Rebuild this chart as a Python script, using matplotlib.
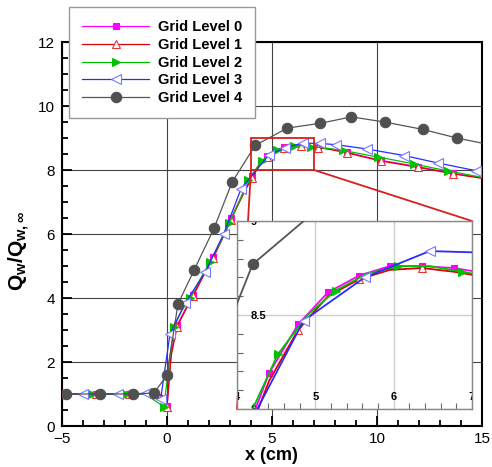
import matplotlib
matplotlib.use("Agg")
import matplotlib.pyplot as plt
from matplotlib.patches import Rectangle, ConnectionPatch
from matplotlib.ticker import MultipleLocator, FixedLocator, FuncFormatter

plt.rcParams['font.family'] = ['Liberation Sans', 'DejaVu Sans']
plt.rcParams['mathtext.fontset'] = 'custom'
plt.rcParams['mathtext.rm'] = 'Liberation Sans'
plt.rcParams['mathtext.bf'] = 'Liberation Sans:bold'
plt.rcParams['mathtext.it'] = 'Liberation Sans:italic'

# ---------------- data ----------------
labels = ["Grid Level 0", "Grid Level 1", "Grid Level 2", "Grid Level 3", "Grid Level 4"]

l0_x = [-5.0, -4.2, -3.4, -2.6, -1.8, -1.2, -0.6, -0.25, 0.0, 0.2, 0.48, 0.85, 1.24, 1.7, 2.2, 2.6,
        3.05, 3.6, 4.05, 4.41, 4.78, 5.16, 5.56, 5.95, 6.36, 6.77, 7.2, 7.85, 8.55, 9.35, 10.2, 11.1,
        11.97, 12.8, 13.6, 15.0]
l0_y = [1.0, 1.0, 1.0, 1.0, 1.0, 1.0, 1.0, 0.97, 0.62, 2.3, 3.15, 3.62, 4.09, 4.68, 5.28, 5.83,
        6.5, 7.25, 7.8, 8.19, 8.45, 8.62, 8.71, 8.76, 8.76, 8.75, 8.72, 8.65, 8.56, 8.43, 8.3, 8.2,
        8.1, 8.0, 7.9, 7.76]

l1_x = l0_x
l1_y = [1.0, 1.0, 1.0, 1.0, 1.0, 1.0, 1.0, 0.96, 0.6, 2.2, 3.1, 3.58, 4.05, 4.65, 5.25, 5.8,
        6.45, 7.2, 7.76, 8.15, 8.42, 8.6, 8.69, 8.74, 8.75, 8.73, 8.7, 8.63, 8.54, 8.41, 8.28, 8.18,
        8.08, 7.98, 7.88, 7.74]

l2_x = [-5.0, -3.55, -2.75, -1.96, -1.05, -0.14, 0.1, 0.33, 0.7, 1.1, 1.55, 2.05, 2.5, 2.97, 3.42,
        3.87, 4.2, 4.52, 4.9, 5.26, 5.66, 6.06, 6.46, 6.87, 7.6, 8.4, 9.2, 10.07, 10.9, 11.74, 12.55,
        13.4, 15.0]
l2_y = [1.0, 1.0, 1.0, 1.0, 1.0, 0.6, 2.0, 3.1, 3.6, 4.0, 4.55, 5.13, 5.7, 6.34, 6.98,
        7.68, 8.0, 8.29, 8.5, 8.63, 8.72, 8.76, 8.76, 8.73, 8.68, 8.61, 8.51, 8.4, 8.3, 8.19, 8.08,
        7.97, 7.77]

l3_x = [-5.0, -4.0, -2.35, -1.0, -0.3, 0.14, 0.86, 1.81, 2.7, 3.53, 4.85, 5.63, 6.46, 7.3, 8.07,
        9.5, 11.3, 12.9, 14.7, 15.0]
l3_y = [1.0, 1.0, 1.0, 1.02, 0.85, 2.87, 3.84, 4.8, 6.0, 7.42, 8.47, 8.7, 8.84, 8.83, 8.79,
        8.66, 8.45, 8.22, 7.98, 7.94]

l4_x = [-4.8, -3.2, -1.62, -0.62, 0.0, 0.52, 1.29, 2.24, 3.1, 4.2, 5.73, 7.3, 8.78, 10.36, 12.17,
        13.8, 15.0]
l4_y = [1.0, 1.0, 1.0, 1.03, 1.59, 3.81, 4.87, 6.18, 7.62, 8.77, 9.31, 9.46, 9.66, 9.5, 9.27,
        9.0, 8.84]

xs = [l0_x, l1_x, l2_x, l3_x, l4_x]
ys = [l0_y, l1_y, l2_y, l3_y, l4_y]

main_xlim = (-5, 15)
main_ylim = (0, 12)
zoom_xlim = (4, 7)
zoom_ylim = (8, 9)

# ---------------- styles ----------------
styles = [
    dict(color='#ff00ff', marker='s', ms=5, mfc='#ff00ff', mec='#ff00ff'),
    dict(color='#dd0000', marker='^', ms=6, mfc='white', mec='#ee3333'),
    dict(color='#00c000', marker='>', ms=6, mfc='#00c000', mec='#00c000'),
    dict(color='#2a2aff', marker='<', ms=6.5, mfc='white', mec='#7878ff'),
    dict(color='#555555', marker='o', ms=7.5, mfc='#505050', mec='#505050'),
]
main_every = [2, 2, (1, 2), slice(0, -1), slice(0, -1)]
inset_every = [1, 2, (1, 2), slice(0, -1), slice(0, -1)]

W, H = 492, 467
fig = plt.figure(figsize=(W / 100, H / 100), dpi=100)
ax = fig.add_axes([62 / W, (H - 426) / H, 420 / W, 384 / H])

handles = []
for i in range(5):
    st = styles[i]
    h, = ax.plot(xs[i], ys[i], color=st['color'], lw=0.9, marker=st['marker'], ms=st['ms'],
                 mfc=st['mfc'], mec=st['mec'], mew=0.8, markevery=main_every[i], zorder=3 + i * 0.1,
                 label=labels[i])
    handles.append(h)

ax.set_xlim(*main_xlim)
ax.set_ylim(*main_ylim)
ax.xaxis.set_major_locator(MultipleLocator(5))
ax.xaxis.set_minor_locator(MultipleLocator(1))
ax.yaxis.set_major_locator(MultipleLocator(2))
ax.yaxis.set_minor_locator(MultipleLocator(0.5))
ax.tick_params(which='both', direction='in', top=False, right=False, labelsize=11, width=1.3)
ax.tick_params(which='major', length=7, pad=4)
ax.tick_params(which='minor', length=4)
ax.tick_params(axis='y', which='major', pad=5)
ax.grid(True, which='major', color='#444444', lw=0.8)
ax.set_axisbelow(True)
for sp in ax.spines.values():
    sp.set_linewidth(1.5)
    sp.set_color('black')

ax.set_xlabel('x (cm)', fontsize=13, fontweight='bold')
ax.set_ylabel(r'$\mathbf{Q_w/Q_{w,\infty}}$', fontsize=15)
ax.xaxis.set_label_coords(0.4976, -0.055)
ax.yaxis.set_label_coords(-0.072, 0.455)

# zoom rectangle
red = '#d42020'
ax.add_patch(Rectangle((zoom_xlim[0], zoom_ylim[0]), zoom_xlim[1] - zoom_xlim[0],
                       zoom_ylim[1] - zoom_ylim[0], fill=False, ec=red, lw=1.3, zorder=6))

# inset
axins = fig.add_axes([237 / W, (H - 409) / H, 235 / W, 188 / H], zorder=5)
for i in range(5):
    st = styles[i]
    axins.plot(xs[i], ys[i], color=st['color'], lw=1.3, marker=st['marker'], ms=st['ms'],
               mfc=st['mfc'], mec=st['mec'], mew=0.8, markevery=inset_every[i], zorder=3 + i * 0.1)
axins.set_xlim(*zoom_xlim)
axins.set_ylim(*zoom_ylim)
axins.xaxis.set_major_locator(MultipleLocator(1))
axins.xaxis.set_minor_locator(MultipleLocator(0.2))
axins.yaxis.set_major_locator(FixedLocator([8.0, 8.5, 9.0]))
axins.yaxis.set_minor_locator(MultipleLocator(0.1))
axins.yaxis.set_major_formatter(FuncFormatter(lambda v, p: '%g' % v))
axins.xaxis.set_major_formatter(FuncFormatter(lambda v, p: '%g' % v))
axins.grid(True, which='major', color='#cccccc', lw=1.0)
axins.set_axisbelow(True)
axins.tick_params(which='both', direction='in', top=False, right=False, color='#666666')
axins.tick_params(which='major', length=0)
axins.tick_params(which='minor', length=4, width=0.8)
axins.tick_params(axis='x', which='major', pad=-12, labelsize=8)
axins.tick_params(axis='y', which='major', pad=-9.5, labelsize=8)
for sp in axins.spines.values():
    sp.set_linewidth(1.0)
    sp.set_color('#888888')
for t in axins.get_xticklabels() + axins.get_yticklabels():
    t.set_fontweight('bold')
    t.set_clip_box(axins.bbox)
    t.set_clip_on(True)
for t in axins.get_yticklabels():
    t.set_horizontalalignment('left')

# connectors
con1 = ConnectionPatch(xyA=(zoom_xlim[0], zoom_ylim[0]), coordsA=ax.transData,
                       xyB=(zoom_xlim[0], zoom_ylim[0]), coordsB=axins.transData,
                       color=red, lw=1.3, zorder=4)
con2 = ConnectionPatch(xyA=(zoom_xlim[1], zoom_ylim[0]), coordsA=ax.transData,
                       xyB=(zoom_xlim[1], zoom_ylim[1]), coordsB=axins.transData,
                       color=red, lw=1.3, zorder=4)
fig.add_artist(con1)
fig.add_artist(con2)

leg = fig.legend(handles=handles, loc='upper left', bbox_to_anchor=(69 / W, 1 - 7 / H),
                 bbox_transform=fig.transFigure, borderaxespad=0,
                 prop={'weight': 'bold', 'size': 10.5}, handlelength=4.6, handletextpad=0.6,
                 labelspacing=0.26, borderpad=0.9, fancybox=False, framealpha=1,
                 edgecolor='#999999', numpoints=1)
leg.set_zorder(10)
leg.get_frame().set_linewidth(1.0)

fig.savefig('out.png', dpi=100)
